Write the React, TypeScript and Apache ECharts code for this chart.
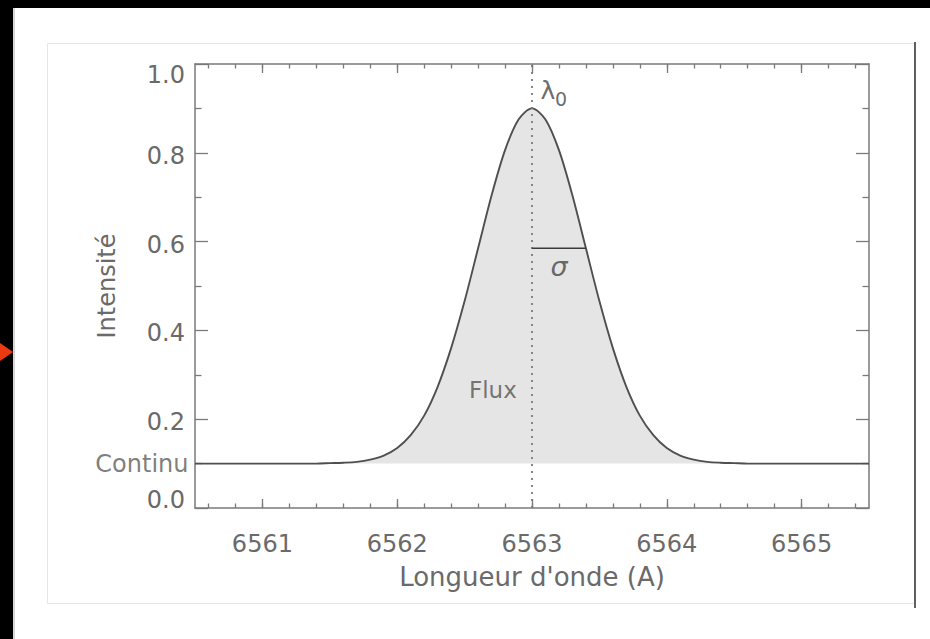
import React, { useEffect, useRef } from "react";
import * as echarts from "echarts";

// Wavelength samples (Å) and intensity read from the profile
const wavelengths = [
  6560.5, 6560.6, 6560.7, 6560.8, 6560.9, 6561.0, 6561.1, 6561.2, 6561.3, 6561.4,
  6561.5, 6561.6, 6561.7, 6561.8, 6561.9, 6562.0, 6562.1, 6562.2, 6562.3, 6562.4,
  6562.5, 6562.6, 6562.7, 6562.8, 6562.9, 6563.0, 6563.1, 6563.2, 6563.3, 6563.4,
  6563.5, 6563.6, 6563.7, 6563.8, 6563.9, 6564.0, 6564.1, 6564.2, 6564.3, 6564.4,
  6564.5, 6564.6, 6564.7, 6564.8, 6564.9, 6565.0, 6565.1, 6565.2, 6565.3, 6565.4,
  6565.5,
];
const intensity = [
  0.1, 0.1, 0.1, 0.1, 0.1, 0.1, 0.1, 0.1, 0.1, 0.1,
  0.101, 0.102, 0.104, 0.109, 0.118, 0.135, 0.164, 0.208, 0.273, 0.36,
  0.466, 0.585, 0.704, 0.806, 0.875, 0.9, 0.875, 0.806, 0.704, 0.585,
  0.466, 0.36, 0.273, 0.208, 0.164, 0.135, 0.118, 0.109, 0.104, 0.102,
  0.101, 0.1, 0.1, 0.1, 0.1, 0.1, 0.1, 0.1, 0.1, 0.1,
  0.1,
];
const continuum = 0.1;
const lambda0 = 6563;
const sigma = 0.4;
const sigmaLevel = 0.585;

const xMajorTicks = [6561, 6562, 6563, 6564, 6565];
const xMinorTicks = [
  6560.6, 6560.8, 6561.0, 6561.2, 6561.4, 6561.6, 6561.8, 6562.0, 6562.2, 6562.4,
  6562.6, 6562.8, 6563.0, 6563.2, 6563.4, 6563.6, 6563.8, 6564.0, 6564.2, 6564.4,
  6564.6, 6564.8, 6565.0, 6565.2, 6565.4,
];

const FONT = "DejaVu Sans";
const GREY_TEXT = "#6a6a6a";
const DARK_TEXT = "#454545";
const AXIS_COLOR = "#7a7a7a";

export default function App() {
  const ref = useRef<HTMLDivElement>(null);

  useEffect(() => {
    if (!ref.current) return;
    const chart = echarts.init(ref.current, null, { renderer: "svg" });

    const xBase = {
      type: "value",
      min: 6560.5,
      max: 6565.5,
      splitLine: { show: false },
    };
    const yBase = {
      type: "value",
      min: 0,
      max: 1,
      interval: 0.2,
      splitLine: { show: false },
    };
    const axisLine = { show: true, lineStyle: { color: AXIS_COLOR, width: 1.5 } };
    const tickStyle = { color: AXIS_COLOR, width: 1.3 };

    const curve = wavelengths.map((w, i) => [w, intensity[i]]);

    const textMarks = [
      { text: "Flux", x: 6562.71, y: 0.266, size: 23, italic: false, pos: "inside", color: "#555" },
      { text: "σ", x: 6563.2, y: 0.545, size: 27, italic: true, pos: "inside", color: DARK_TEXT },
      { text: "λ", x: 6563.118, y: 0.941, size: 25, italic: false, pos: "inside", color: DARK_TEXT },
      { text: "0", x: 6563.215, y: 0.921, size: 19, italic: false, pos: "inside", color: DARK_TEXT },
      { text: "Continu", x: 6560.5, y: continuum, size: 24, italic: false, pos: "left", color: "#5c5c5c" },
    ];

    const yLabelText = (v: number) => {
      const s = v.toFixed(1);
      if (v === 0) return `{lo|${s}}`;
      if (v === 1) return `{hi|${s}}`;
      return `{m|${s}}`;
    };

    const option = {
      animation: false,
      backgroundColor: "#ffffff",
      textStyle: { fontFamily: FONT },
      graphic: [
        { type: "rect", z: -10, shape: { x: 0, y: 0, width: 930, height: 8 }, style: { fill: "#000" } },
        { type: "rect", z: -10, shape: { x: 0, y: 0, width: 13, height: 639 }, style: { fill: "#000" } },
        { type: "line", z: -10, shape: { x1: 14, y1: 8, x2: 14, y2: 639 }, style: { stroke: "#c8c8c8", lineWidth: 1.5 } },
        {
          type: "polygon",
          z: -9,
          shape: { points: [[0, 343], [13, 352], [0, 361]] },
          style: { fill: "#ee3a10" },
        },
        {
          type: "rect",
          z: -10,
          shape: { x: 47.5, y: 43.5, width: 867, height: 560 },
          style: { fill: "none", stroke: "#e6e6e6", lineWidth: 1 },
        },
        { type: "line", z: -9, shape: { x1: 915, y1: 42, x2: 915, y2: 608 }, style: { stroke: "#3a3a3a", lineWidth: 1.6 } },
      ],
      grid: { left: 195, top: 64, width: 674, height: 444 },
      xAxis: [
        {
          ...xBase,
          position: "bottom",
          axisLine,
          axisTick: { show: true, inside: true, length: 9, customValues: xMajorTicks, lineStyle: tickStyle },
          axisLabel: {
            show: true,
            customValues: xMajorTicks,
            formatter: (v: number) => String(v),
            fontSize: 24,
            color: GREY_TEXT,
            fontFamily: FONT,
            margin: 24,
          },
          name: "Longueur d'onde (A)",
          nameLocation: "middle",
          nameGap: 56,
          nameTextStyle: { fontSize: 26, color: GREY_TEXT, fontFamily: FONT },
        },
        {
          ...xBase,
          position: "bottom",
          axisLine: { show: false },
          axisTick: { show: true, inside: true, length: 4.5, customValues: xMinorTicks, lineStyle: tickStyle },
          axisLabel: { show: false },
        },
        {
          ...xBase,
          position: "top",
          axisLine,
          axisTick: { show: true, inside: true, length: 9, customValues: xMajorTicks, lineStyle: tickStyle },
          axisLabel: { show: false },
        },
        {
          ...xBase,
          position: "top",
          axisLine: { show: false },
          axisTick: { show: true, inside: true, length: 4.5, customValues: xMinorTicks, lineStyle: tickStyle },
          axisLabel: { show: false },
        },
      ],
      yAxis: [
        {
          ...yBase,
          position: "left",
          axisLine,
          axisTick: { show: true, inside: true, length: 13, lineStyle: tickStyle },
          minorTick: { show: true, splitNumber: 2, length: 6.5, lineStyle: tickStyle },
          axisLabel: {
            show: true,
            formatter: yLabelText,
            fontSize: 24,
            color: GREY_TEXT,
            fontFamily: FONT,
            margin: 10,
            rich: {
              m: { fontSize: 24, color: GREY_TEXT, fontFamily: FONT, padding: [6, 0, 0, 0] },
              lo: { fontSize: 24, color: GREY_TEXT, fontFamily: FONT, padding: [0, 0, 16, 0] },
              hi: { fontSize: 24, color: GREY_TEXT, fontFamily: FONT, padding: [22, 0, 0, 0] },
            },
          },
          name: "Intensité",
          nameLocation: "middle",
          nameGap: 76,
          nameRotate: 90,
          nameTextStyle: { fontSize: 24, color: GREY_TEXT, fontFamily: FONT },
        },
        {
          ...yBase,
          position: "right",
          axisLine,
          axisTick: { show: true, inside: true, length: 13, lineStyle: tickStyle },
          minorTick: { show: true, splitNumber: 2, length: 6.5, lineStyle: tickStyle },
          axisLabel: { show: false },
        },
      ],
      series: [
        {
          type: "line",
          name: "profile",
          data: curve,
          xAxisIndex: 0,
          yAxisIndex: 0,
          showSymbol: false,
          symbol: "none",
          smooth: 0.3,
          lineStyle: { color: "#4f4f4f", width: 1.9 },
          areaStyle: { color: "#e5e5e5", opacity: 1, origin: continuum },
          z: 2,
        },
        {
          type: "line",
          name: "lambda0",
          data: [
            [lambda0, 0],
            [lambda0, 1],
          ],
          symbol: "none",
          lineStyle: { color: "#7a7a7a", width: 1.8, type: [2, 5] },
          z: 4,
        },
        {
          type: "line",
          name: "sigma",
          data: [
            [lambda0, sigmaLevel],
            [lambda0 + sigma, sigmaLevel],
          ],
          symbol: "none",
          lineStyle: { color: "#3a3a3a", width: 1.6 },
          z: 5,
        },
        {
          type: "scatter",
          name: "labels",
          symbolSize: 1,
          itemStyle: { color: "rgba(0,0,0,0)" },
          silent: true,
          clip: false,
          z: 6,
          data: textMarks.map((t) => ({
            value: [t.x, t.y],
            label: {
              show: true,
              formatter: t.text,
              position: t.pos,
              distance: 6,
              fontSize: t.size,
              fontStyle: t.italic ? "italic" : "normal",
              fontFamily: FONT,
              color: t.color,
            },
          })),
        },
      ],
    };

    chart.setOption(option as any);
    return () => chart.dispose();
  }, []);

  return (
    <div
      ref={ref}
      style={{ position: "fixed", left: 0, top: 0, width: 930, height: 639 }}
    />
  );
}
